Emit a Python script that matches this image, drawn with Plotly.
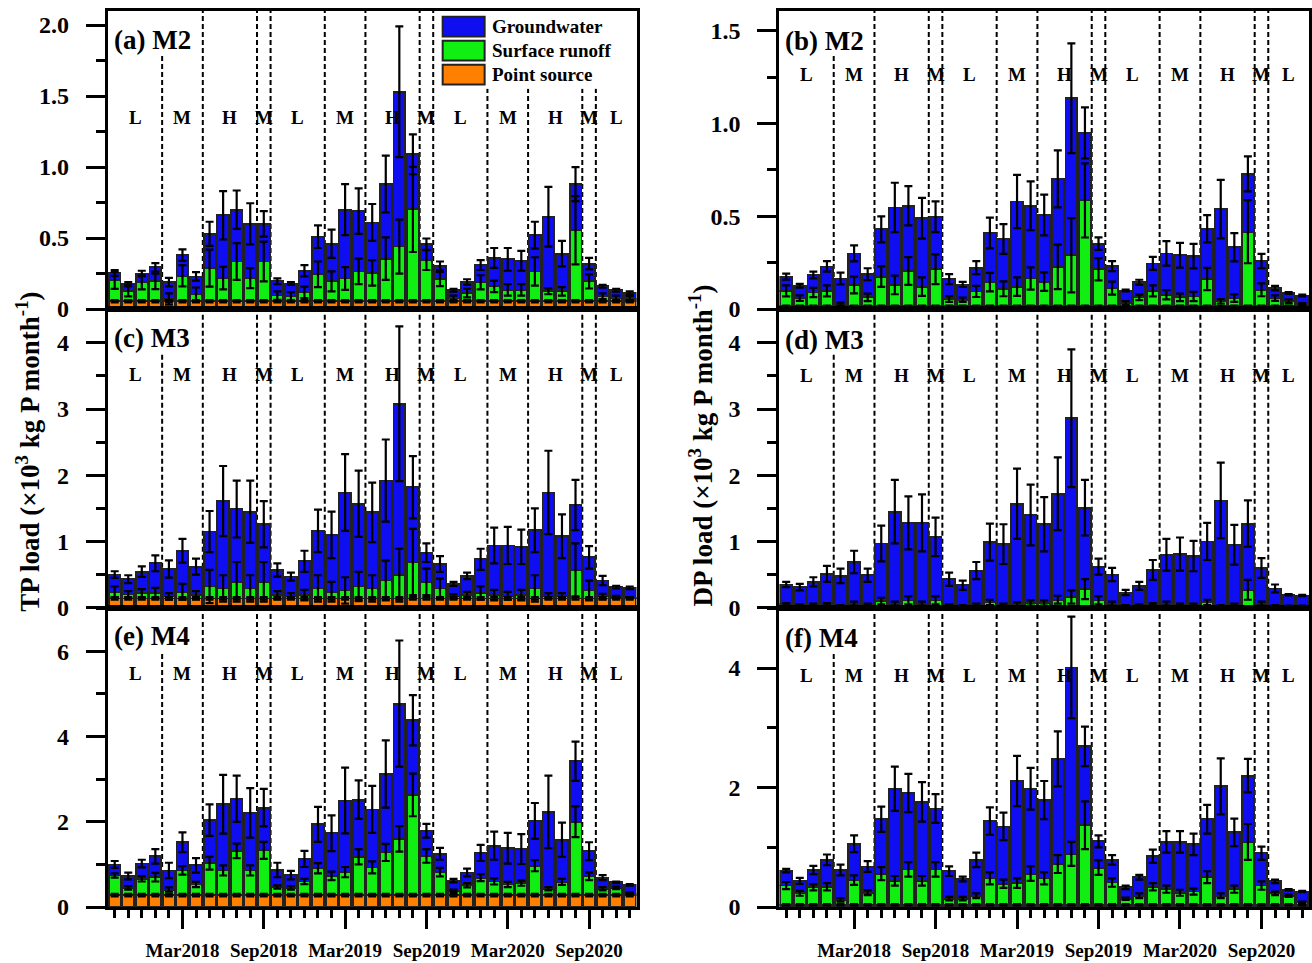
import plotly.graph_objects as go

# ---------------- data ----------------
months = ["Oct2017", "Nov2017", "Dec2017", "Jan2018", "Feb2018", "Mar2018", "Apr2018", "May2018",
          "Jun2018", "Jul2018", "Aug2018", "Sep2018", "Oct2018", "Nov2018", "Dec2018", "Jan2019",
          "Feb2019", "Mar2019", "Apr2019", "May2019", "Jun2019", "Jul2019", "Aug2019", "Sep2019",
          "Oct2019", "Nov2019", "Dec2019", "Jan2020", "Feb2020", "Mar2020", "Apr2020", "May2020",
          "Jun2020", "Jul2020", "Aug2020", "Sep2020", "Oct2020", "Nov2020", "Dec2020"]
major_labels = ["Mar2018", "Sep2018", "Mar2019", "Sep2019", "Mar2020", "Sep2020"]
season_names = ["L", "M", "H", "M", "L", "M", "H", "M", "L", "M", "H", "M", "L"]
season_lengths = [4, 3, 4, 1, 4, 3, 4, 1, 4, 3, 4, 1, 3]

# (a) TP M2
tp_m2_point = [0.055, 0.055, 0.055, 0.055, 0.055, 0.055, 0.055, 0.055, 0.055, 0.055, 0.055, 0.055, 0.055,
               0.055, 0.055, 0.055, 0.055, 0.055, 0.055, 0.055, 0.055, 0.055, 0.055, 0.055, 0.055, 0.055,
               0.055, 0.055, 0.055, 0.055, 0.055, 0.055, 0.055, 0.055, 0.055, 0.055, 0.055, 0.055, 0.055]
tp_m2_surface = [0.147, 0.07, 0.133, 0.14, 0.016, 0.18, 0.047, 0.233, 0.163, 0.28, 0.163, 0.28, 0.04,
                 0.035, 0.063, 0.19, 0.14, 0.16, 0.21, 0.2, 0.3, 0.385, 0.647, 0.29, 0.156, 0.02,
                 0.058, 0.133, 0.105, 0.08, 0.08, 0.21, 0.07, 0.07, 0.5, 0.14, 0.035, 0.02, 0.016]
tp_m2_ground = [0.052, 0.055, 0.062, 0.099, 0.119, 0.145, 0.128, 0.242, 0.442, 0.365, 0.382, 0.265, 0.101,
                0.09, 0.152, 0.265, 0.265, 0.485, 0.425, 0.355, 0.525, 1.09, 0.388, 0.112, 0.094, 0.058,
                0.077, 0.122, 0.2, 0.215, 0.205, 0.255, 0.525, 0.265, 0.325, 0.125, 0.07, 0.058, 0.043]
tp_m2_point_err = [0.008, 0.008, 0.008, 0.008, 0.008, 0.008, 0.008, 0.008, 0.008, 0.008, 0.008, 0.008, 0.008,
                   0.008, 0.008, 0.008, 0.008, 0.008, 0.008, 0.008, 0.008, 0.008, 0.008, 0.008, 0.008, 0.008,
                   0.008, 0.008, 0.008, 0.008, 0.008, 0.008, 0.008, 0.008, 0.008, 0.008, 0.008, 0.008, 0.008]
tp_m2_surface_err = [0.06, 0.035, 0.05, 0.055, 0.04, 0.075, 0.05, 0.13, 0.08, 0.13, 0.07, 0.14, 0.03,
                     0.03, 0.04, 0.09, 0.07, 0.08, 0.09, 0.09, 0.15, 0.19, 0.3, 0.07, 0.05, 0.02,
                     0.03, 0.05, 0.04, 0.04, 0.04, 0.1, 0.02, 0.03, 0.24, 0.05, 0.02, 0.02, 0.02]
tp_m2_ground_err = [0.02, 0.01, 0.02, 0.03, 0.03, 0.04, 0.03, 0.085, 0.17, 0.135, 0.145, 0.09, 0.02,
                    0.01, 0.04, 0.08, 0.1, 0.18, 0.16, 0.13, 0.2, 0.46, 0.14, 0.04, 0.03, 0.01,
                    0.02, 0.035, 0.07, 0.08, 0.07, 0.095, 0.21, 0.09, 0.12, 0.04, 0.01, 0.01, 0.01]

# (c) TP M3
tp_m3_point = [0.14, 0.14, 0.14, 0.14, 0.14, 0.14, 0.14, 0.14, 0.14, 0.14, 0.14, 0.14, 0.14,
               0.14, 0.14, 0.14, 0.14, 0.14, 0.14, 0.14, 0.14, 0.14, 0.14, 0.14, 0.14, 0.14,
               0.14, 0.14, 0.14, 0.14, 0.14, 0.14, 0.14, 0.14, 0.14, 0.14, 0.14, 0.14, 0.14]
tp_m3_surface = [0.10, 0.06, 0.08, 0.08, 0.03, 0.10, 0.05, 0.18, 0.15, 0.25, 0.15, 0.25, 0.05,
                 0.04, 0.05, 0.15, 0.10, 0.12, 0.18, 0.15, 0.27, 0.35, 0.55, 0.25, 0.15, 0.03,
                 0.05, 0.08, 0.05, 0.04, 0.05, 0.15, 0.04, 0.04, 0.43, 0.12, 0.03, 0.02, 0.01]
tp_m3_ground = [0.26, 0.23, 0.325, 0.45, 0.415, 0.62, 0.43, 0.83, 1.32, 1.10, 1.16, 0.87, 0.38,
                0.29, 0.51, 0.87, 0.86, 1.48, 1.25, 1.15, 1.51, 2.59, 1.13, 0.44, 0.37, 0.19,
                0.29, 0.51, 0.75, 0.76, 0.73, 0.88, 1.56, 0.90, 0.98, 0.50, 0.24, 0.15, 0.15]
tp_m3_point_err = [0.02, 0.02, 0.02, 0.02, 0.02, 0.02, 0.02, 0.02, 0.02, 0.02, 0.02, 0.02, 0.02,
                   0.02, 0.02, 0.02, 0.02, 0.02, 0.02, 0.02, 0.02, 0.02, 0.02, 0.02, 0.02, 0.02,
                   0.02, 0.02, 0.02, 0.02, 0.02, 0.02, 0.02, 0.02, 0.02, 0.02, 0.02, 0.02, 0.02]
tp_m3_surface_err = [0.08, 0.05, 0.06, 0.08, 0.05, 0.12, 0.06, 0.25, 0.2, 0.3, 0.2, 0.3, 0.06,
                     0.04, 0.08, 0.2, 0.15, 0.2, 0.22, 0.2, 0.3, 0.4, 0.5, 0.2, 0.15, 0.03,
                     0.05, 0.1, 0.08, 0.06, 0.08, 0.2, 0.04, 0.04, 0.4, 0.15, 0.04, 0.02, 0.01]
tp_m3_ground_err = [0.05, 0.06, 0.08, 0.12, 0.13, 0.18, 0.12, 0.31, 0.53, 0.43, 0.47, 0.35, 0.1,
                    0.06, 0.16, 0.32, 0.35, 0.58, 0.5, 0.45, 0.62, 1.17, 0.47, 0.14, 0.12, 0.03,
                    0.05, 0.16, 0.27, 0.28, 0.26, 0.33, 0.63, 0.33, 0.38, 0.17, 0.07, 0.02, 0.02]

# (e) TP M4
tp_m4_point = [0.28, 0.28, 0.28, 0.28, 0.28, 0.28, 0.28, 0.28, 0.28, 0.28, 0.28, 0.28, 0.28,
               0.28, 0.28, 0.28, 0.28, 0.28, 0.28, 0.28, 0.28, 0.28, 0.28, 0.28, 0.28, 0.28,
               0.28, 0.28, 0.28, 0.28, 0.28, 0.28, 0.28, 0.28, 0.28, 0.28, 0.28, 0.28, 0.28]
tp_m4_surface = [0.46, 0.17, 0.38, 0.42, 0.13, 0.58, 0.25, 0.75, 0.58, 1.04, 0.58, 1.05, 0.19,
                 0.17, 0.32, 0.63, 0.45, 0.54, 0.90, 0.65, 1.0, 1.32, 2.35, 0.92, 0.54, 0.1,
                 0.23, 0.41, 0.32, 0.25, 0.28, 0.69, 0.15, 0.31, 1.72, 0.44, 0.15, 0.17, 0.04]
tp_m4_ground = [0.26, 0.28, 0.36, 0.49, 0.45, 0.66, 0.45, 1.01, 1.55, 1.22, 1.35, 1.0, 0.4,
                0.3, 0.53, 1.03, 1.0, 1.68, 1.34, 1.36, 1.84, 3.17, 1.75, 0.59, 0.43, 0.24,
                0.3, 0.58, 0.84, 0.85, 0.8, 1.05, 1.8, 0.99, 1.42, 0.59, 0.26, 0.13, 0.2]
tp_m4_point_err = [0.03, 0.03, 0.03, 0.03, 0.03, 0.03, 0.03, 0.03, 0.03, 0.03, 0.03, 0.03, 0.03,
                   0.03, 0.03, 0.03, 0.03, 0.03, 0.03, 0.03, 0.03, 0.03, 0.03, 0.03, 0.03, 0.03,
                   0.03, 0.03, 0.03, 0.03, 0.03, 0.03, 0.03, 0.03, 0.03, 0.03, 0.03, 0.03, 0.03]
tp_m4_surface_err = [0.05, 0.04, 0.06, 0.1, 0.05, 0.1, 0.06, 0.15, 0.12, 0.17, 0.12, 0.2, 0.04,
                     0.04, 0.06, 0.12, 0.1, 0.12, 0.18, 0.14, 0.2, 0.3, 0.5, 0.16, 0.1, 0.03,
                     0.05, 0.08, 0.07, 0.06, 0.06, 0.13, 0.04, 0.07, 0.36, 0.09, 0.04, 0.03, 0.02]
tp_m4_ground_err = [0.08, 0.08, 0.09, 0.17, 0.18, 0.23, 0.17, 0.37, 0.69, 0.54, 0.58, 0.44, 0.17,
                    0.1, 0.19, 0.41, 0.42, 0.77, 0.45, 0.55, 0.79, 1.48, 0.59, 0.16, 0.14, 0.04,
                    0.09, 0.19, 0.33, 0.36, 0.35, 0.42, 0.85, 0.4, 0.46, 0.21, 0.06, 0.02, 0.02]

# (b) DP M2
dp_m2_point = [0.015, 0.015, 0.015, 0.015, 0.015, 0.015, 0.015, 0.015, 0.015, 0.015, 0.015, 0.015, 0.015,
               0.015, 0.015, 0.015, 0.015, 0.015, 0.015, 0.015, 0.015, 0.015, 0.015, 0.015, 0.015, 0.015,
               0.015, 0.015, 0.015, 0.015, 0.015, 0.015, 0.015, 0.015, 0.015, 0.015, 0.015, 0.015, 0.015]
dp_m2_surface = [0.083, 0.044, 0.074, 0.083, 0.01, 0.115, 0.048, 0.16, 0.115, 0.19, 0.106, 0.2, 0.039,
                 0.035, 0.08, 0.13, 0.094, 0.106, 0.15, 0.133, 0.213, 0.275, 0.571, 0.2, 0.098, 0.018,
                 0.048, 0.083, 0.062, 0.048, 0.053, 0.147, 0.027, 0.044, 0.402, 0.089, 0.044, 0.027, 0.012]
dp_m2_ground = [0.077, 0.067, 0.095, 0.132, 0.14, 0.17, 0.125, 0.255, 0.418, 0.352, 0.369, 0.283, 0.107,
                0.083, 0.128, 0.265, 0.269, 0.459, 0.392, 0.359, 0.474, 0.847, 0.364, 0.138, 0.119, 0.067,
                0.081, 0.148, 0.223, 0.227, 0.217, 0.271, 0.497, 0.274, 0.312, 0.155, 0.054, 0.045, 0.046]
dp_m2_point_err = [0.004, 0.004, 0.004, 0.004, 0.004, 0.004, 0.004, 0.004, 0.004, 0.004, 0.004, 0.004, 0.004,
                   0.004, 0.004, 0.004, 0.004, 0.004, 0.004, 0.004, 0.004, 0.004, 0.004, 0.004, 0.004, 0.004,
                   0.004, 0.004, 0.004, 0.004, 0.004, 0.004, 0.004, 0.004, 0.004, 0.004, 0.004, 0.004, 0.004]
dp_m2_surface_err = [0.03, 0.015, 0.025, 0.03, 0.01, 0.045, 0.02, 0.055, 0.05, 0.075, 0.05, 0.08, 0.015,
                     0.012, 0.03, 0.05, 0.04, 0.05, 0.06, 0.05, 0.12, 0.2, 0.2, 0.06, 0.035, 0.01,
                     0.015, 0.03, 0.025, 0.02, 0.025, 0.06, 0.012, 0.02, 0.17, 0.035, 0.015, 0.01, 0.005]
dp_m2_ground_err = [0.016, 0.01, 0.018, 0.028, 0.032, 0.043, 0.032, 0.07, 0.133, 0.106, 0.11, 0.083, 0.027,
                    0.014, 0.035, 0.083, 0.08, 0.144, 0.131, 0.11, 0.154, 0.296, 0.138, 0.034, 0.027, 0.005,
                    0.014, 0.035, 0.066, 0.067, 0.066, 0.074, 0.158, 0.076, 0.094, 0.039, 0.012, 0.005, 0.005]

# (d) DP M3
dp_m3_point = [0.02, 0.02, 0.02, 0.02, 0.02, 0.02, 0.02, 0.02, 0.02, 0.02, 0.02, 0.02, 0.02,
               0.02, 0.02, 0.02, 0.02, 0.02, 0.02, 0.02, 0.02, 0.02, 0.02, 0.02, 0.02, 0.02,
               0.02, 0.02, 0.02, 0.02, 0.02, 0.02, 0.02, 0.02, 0.02, 0.02, 0.02, 0.02, 0.02]
dp_m3_surface = [0.03, 0.02, 0.02, 0.03, 0.01, 0.04, 0.02, 0.08, 0.04, 0.09, 0.04, 0.09, 0.02,
                 0.01, 0.02, 0.06, 0.02, 0.03, 0.05, 0.05, 0.10, 0.14, 0.26, 0.09, 0.04, 0.01,
                 0.02, 0.03, 0.04, 0.02, 0.02, 0.06, 0.01, 0.02, 0.25, 0.04, 0.01, 0.005, 0.005]
dp_m3_ground = [0.30, 0.27, 0.35, 0.46, 0.45, 0.63, 0.45, 0.87, 1.39, 1.17, 1.22, 0.96, 0.39,
                0.31, 0.52, 0.91, 0.92, 1.52, 1.33, 1.19, 1.60, 2.70, 1.23, 0.51, 0.44, 0.20,
                0.29, 0.52, 0.74, 0.77, 0.74, 0.92, 1.59, 0.91, 1.00, 0.54, 0.26, 0.17, 0.16]
dp_m3_point_err = [0.005, 0.005, 0.005, 0.005, 0.005, 0.005, 0.005, 0.005, 0.005, 0.005, 0.005, 0.005, 0.005,
                   0.005, 0.005, 0.005, 0.005, 0.005, 0.005, 0.005, 0.005, 0.005, 0.005, 0.005, 0.005, 0.005,
                   0.005, 0.005, 0.005, 0.005, 0.005, 0.005, 0.005, 0.005, 0.005, 0.005, 0.005, 0.005, 0.005]
dp_m3_surface_err = [0.02, 0.01, 0.02, 0.02, 0.01, 0.03, 0.02, 0.05, 0.03, 0.06, 0.03, 0.06, 0.01,
                     0.01, 0.02, 0.04, 0.02, 0.03, 0.04, 0.04, 0.06, 0.1, 0.15, 0.06, 0.03, 0.01,
                     0.01, 0.02, 0.03, 0.02, 0.02, 0.04, 0.01, 0.02, 0.15, 0.03, 0.01, 0.005, 0.005]
dp_m3_ground_err = [0.04, 0.05, 0.07, 0.12, 0.11, 0.17, 0.1, 0.27, 0.48, 0.4, 0.43, 0.29, 0.1,
                    0.07, 0.13, 0.28, 0.3, 0.53, 0.46, 0.41, 0.55, 1.04, 0.42, 0.12, 0.1, 0.04,
                    0.06, 0.15, 0.24, 0.25, 0.23, 0.28, 0.57, 0.3, 0.35, 0.15, 0.06, 0.01, 0.01]

# (f) DP M4
dp_m4_point = [0.04, 0.04, 0.04, 0.04, 0.04, 0.04, 0.04, 0.04, 0.04, 0.04, 0.04, 0.04, 0.04,
               0.04, 0.04, 0.04, 0.04, 0.04, 0.04, 0.04, 0.04, 0.04, 0.04, 0.04, 0.04, 0.04,
               0.04, 0.04, 0.04, 0.04, 0.04, 0.04, 0.04, 0.04, 0.04, 0.04, 0.04, 0.04, 0.04]
dp_m4_surface = [0.32, 0.19, 0.29, 0.30, 0.08, 0.41, 0.2, 0.52, 0.40, 0.59, 0.40, 0.59, 0.1,
                 0.1, 0.15, 0.44, 0.35, 0.36, 0.52, 0.44, 0.68, 0.85, 1.33, 0.62, 0.37, 0.1,
                 0.15, 0.3, 0.26, 0.2, 0.22, 0.46, 0.15, 0.26, 1.05, 0.32, 0.19, 0.15, 0.04]
dp_m4_ground = [0.25, 0.21, 0.29, 0.45, 0.5, 0.61, 0.44, 0.91, 1.54, 1.28, 1.32, 1.02, 0.46,
                0.33, 0.6, 0.96, 0.96, 1.71, 1.42, 1.31, 1.76, 3.12, 1.32, 0.44, 0.38, 0.19,
                0.31, 0.51, 0.79, 0.85, 0.79, 0.97, 1.83, 0.95, 1.11, 0.54, 0.2, 0.1, 0.18]
dp_m4_point_err = [0.01, 0.01, 0.01, 0.01, 0.01, 0.01, 0.01, 0.01, 0.01, 0.01, 0.01, 0.01, 0.01,
                   0.01, 0.01, 0.01, 0.01, 0.01, 0.01, 0.01, 0.01, 0.01, 0.01, 0.01, 0.01, 0.01,
                   0.01, 0.01, 0.01, 0.01, 0.01, 0.01, 0.01, 0.01, 0.01, 0.01, 0.01, 0.01, 0.01]
dp_m4_surface_err = [0.06, 0.04, 0.05, 0.06, 0.03, 0.08, 0.04, 0.11, 0.08, 0.12, 0.08, 0.12, 0.03,
                     0.03, 0.04, 0.1, 0.07, 0.08, 0.12, 0.1, 0.15, 0.2, 0.4, 0.12, 0.07, 0.02,
                     0.04, 0.06, 0.06, 0.05, 0.05, 0.1, 0.04, 0.06, 0.3, 0.07, 0.03, 0.02, 0.01]
dp_m4_ground_err = [0.03, 0.05, 0.07, 0.09, 0.09, 0.14, 0.09, 0.21, 0.37, 0.32, 0.33, 0.24, 0.08,
                    0.04, 0.12, 0.23, 0.23, 0.42, 0.35, 0.32, 0.46, 0.85, 0.33, 0.1, 0.08, 0.03,
                    0.04, 0.11, 0.18, 0.18, 0.18, 0.24, 0.47, 0.23, 0.28, 0.11, 0.03, 0.01, 0.01]

# ---------------- styling ----------------
W, H = 1312, 963
FONT = "Liberation Serif"
colors = {"Point source": "#FF8000", "Surface runoff": "#11EE11", "Groundwater": "#0E0EF0"}
OUTLINE = "#222222"


def px(x):
    return x / W


def py(y):
    return 1 - y / H


col_dom = [[108 / W, 637 / W], [780 / W, 1310 / W]]
row_px = [(11, 313.3), (313.3, 616), (616, 919.5)]

panels = [
    dict(label="(a) M2", pt=tp_m2_point, sf=tp_m2_surface, gw=tp_m2_ground, pe=tp_m2_point_err,
         se=tp_m2_surface_err, ge=tp_m2_ground_err, yr=[0, 2.1], tv=[0, 0.5, 1.0, 1.5, 2.0],
         tt=["0", "0.5", "1.0", "1.5", "2.0"], minor=0.25, row=0, col=0, ly=119, lab_y=41),
    dict(label="(b) M2", pt=dp_m2_point, sf=dp_m2_surface, gw=dp_m2_ground, pe=dp_m2_point_err,
         se=dp_m2_surface_err, ge=dp_m2_ground_err, yr=[0, 1.608], tv=[0, 0.5, 1.0, 1.5],
         tt=["0", "0.5", "1.0", "1.5"], minor=0.25, row=0, col=1, ly=76, lab_y=42),
    dict(label="(c) M3", pt=tp_m3_point, sf=tp_m3_surface, gw=tp_m3_ground, pe=tp_m3_point_err,
         se=tp_m3_surface_err, ge=tp_m3_ground_err, yr=[0, 4.51], tv=[0, 1, 2, 3, 4],
         tt=["0", "1", "2", "3", "4"], minor=0.5, row=1, col=0, ly=380, lab_y=343),
    dict(label="(d) M3", pt=dp_m3_point, sf=dp_m3_surface, gw=dp_m3_ground, pe=dp_m3_point_err,
         se=dp_m3_surface_err, ge=dp_m3_ground_err, yr=[0, 4.51], tv=[0, 1, 2, 3, 4],
         tt=["0", "1", "2", "3", "4"], minor=0.5, row=1, col=1, ly=381, lab_y=345),
    dict(label="(e) M4", pt=tp_m4_point, sf=tp_m4_surface, gw=tp_m4_ground, pe=tp_m4_point_err,
         se=tp_m4_surface_err, ge=tp_m4_ground_err, yr=[0, 7.02], tv=[0, 2, 4, 6],
         tt=["0", "2", "4", "6"], minor=1, row=2, col=0, ly=683, lab_y=645),
    dict(label="(f) M4", pt=dp_m4_point, sf=dp_m4_surface, gw=dp_m4_ground, pe=dp_m4_point_err,
         se=dp_m4_surface_err, ge=dp_m4_ground_err, yr=[0, 5.01], tv=[0, 2, 4],
         tt=["0", "2", "4"], minor=1, row=2, col=1, ly=685, lab_y=647),
]

xs = list(range(len(months)))
major_idx = [months.index(m) for m in major_labels]

# season boundaries / centres (in bar-index units)
bounds = []
centres = []
pos = -0.5
for name, ln in zip(season_names, season_lengths):
    centres.append(pos + ln / 2)
    pos += ln
    bounds.append(pos)
bounds = bounds[:-1]

fig = go.Figure()
shapes = []
annotations = []
layout_axes = {}

for k, p in enumerate(panels):
    n = k + 1
    xa = "x" if n == 1 else f"x{n}"
    ya = "y" if n == 1 else f"y{n}"
    segs = [(p["pt"], p["pe"], "Point source"),
            (p["sf"], p["se"], "Surface runoff"),
            (p["gw"], p["ge"], "Groundwater")]
    base = [0.0] * len(xs)
    err_layers = []
    for vals, errs, name in segs:
        fig.add_trace(go.Bar(x=xs, y=vals, name=name, xaxis=xa, yaxis=ya, showlegend=False,
                             marker=dict(color=colors[name], line=dict(color=OUTLINE, width=1.8)),
                             hoverinfo="skip"))
        tops = [b + v for b, v in zip(base, vals)]
        err_layers.append((tops, errs))
        base = tops
    for tops, errs in err_layers:
        fig.add_trace(go.Scatter(x=xs, y=tops, xaxis=xa, yaxis=ya, mode="markers", showlegend=False,
                                 marker=dict(size=1, color="rgba(0,0,0,0)"), hoverinfo="skip",
                                 error_y=dict(type="data", array=errs, symmetric=True, color="black",
                                              thickness=2.2, width=4)))

    top_px, bot_px = row_px[p["row"]]
    bottom_row = p["row"] == 2
    xaxis = dict(domain=col_dom[p["col"]], range=[-0.5, len(months) - 0.5], anchor=ya,
                 showline=True, linecolor="black", linewidth=3, mirror=True, showgrid=False,
                 zeroline=False, fixedrange=True)
    if bottom_row:
        xaxis.update(tickmode="array", tickvals=major_idx, ticktext=major_labels, ticks="outside",
                     ticklen=19, tickwidth=2.5, tickcolor="black", ticklabelstandoff=5,
                     tickfont=dict(family=FONT, size=19, color="black", weight="bold"),
                     minor=dict(tickmode="linear", tick0=0, dtick=1, ticks="outside", ticklen=8,
                                tickwidth=2.5, tickcolor="black"))
    else:
        xaxis.update(showticklabels=False, ticks="")
    yaxis = dict(domain=[py(bot_px), py(top_px)], range=p["yr"], anchor=xa, tickmode="array",
                 tickvals=p["tv"], ticktext=p["tt"], ticks="outside", ticklen=19, tickwidth=2.5,
                 tickcolor="black", ticklabelstandoff=12,
                 tickfont=dict(family=FONT, size=24, color="black", weight="bold"),
                 minor=dict(tickmode="linear", tick0=0, dtick=p["minor"], ticks="outside", ticklen=9,
                            tickwidth=2.5, tickcolor="black"),
                 showline=True, linecolor="black", linewidth=3, mirror=True, showgrid=False,
                 zeroline=False, fixedrange=True)
    layout_axes["xaxis" if n == 1 else f"xaxis{n}"] = xaxis
    layout_axes["yaxis" if n == 1 else f"yaxis{n}"] = yaxis

    # dashed season boundaries
    for i, b in enumerate(bounds):
        y1 = 1.0
        if i == 0:
            y1 = 0.855
        if k == 0 and b > 26:
            y1 = 0.74
        shapes.append(dict(type="line", xref=xa, yref=f"{ya} domain", x0=b, x1=b, y0=0, y1=y1,
                           line=dict(color="black", width=2, dash="5px,3px"), layer="below"))
    # season letters
    for name, c in zip(season_names, centres):
        annotations.append(dict(x=c, y=py(p["ly"]), xref=xa, yref="paper", text=name, showarrow=False,
                                xanchor="center", yanchor="middle",
                                font=dict(family=FONT, size=19, color="black", weight="bold")))
    # panel label
    left_px = col_dom[p["col"]][0] * W + 4
    annotations.append(dict(x=px(left_px), y=py(p["lab_y"]), xref="paper", yref="paper", text=p["label"],
                            showarrow=False, xanchor="left", yanchor="middle",
                            font=dict(family=FONT, size=27, color="black", weight="bold")))

# axis titles
annotations.append(dict(x=px(28), y=py(458), xref="paper", yref="paper", textangle=-90, showarrow=False,
                        xanchor="center", yanchor="middle",
                        text="TP load (×10<sup>3</sup> kg P month<sup>-1</sup>)",
                        font=dict(family=FONT, size=27, color="black", weight="bold")))
annotations.append(dict(x=px(701), y=py(451), xref="paper", yref="paper", textangle=-90, showarrow=False,
                        xanchor="center", yanchor="middle",
                        text="DP load (×10<sup>3</sup> kg P month<sup>-1</sup>)",
                        font=dict(family=FONT, size=27, color="black", weight="bold")))

# legend (drawn in panel a)
legend_items = ["Groundwater", "Surface runoff", "Point source"]
shapes.append(dict(type="rect", xref="paper", yref="paper", x0=px(438), x1=px(616), y0=py(90), y1=py(13),
                   fillcolor="white", line=dict(width=0), layer="above"))
for j, name in enumerate(legend_items):
    top = 17 + j * 24.3
    shapes.append(dict(type="rect", xref="paper", yref="paper", x0=px(443), x1=px(485),
                       y0=py(top + 20), y1=py(top), fillcolor=colors[name],
                       line=dict(color="#222222", width=2), layer="above"))
    annotations.append(dict(x=px(490), y=py(top + 10), xref="paper", yref="paper", text=name,
                            showarrow=False, xanchor="left", yanchor="middle",
                            font=dict(family=FONT, size=19, color="black", weight="bold")))

fig.update_layout(width=W, height=H, margin=dict(l=0, r=0, t=0, b=0), autosize=False,
                  paper_bgcolor="white", plot_bgcolor="white", barmode="stack", bargap=0.13,
                  showlegend=False, shapes=shapes, annotations=annotations, **layout_axes)

fig.write_html("out.html")
